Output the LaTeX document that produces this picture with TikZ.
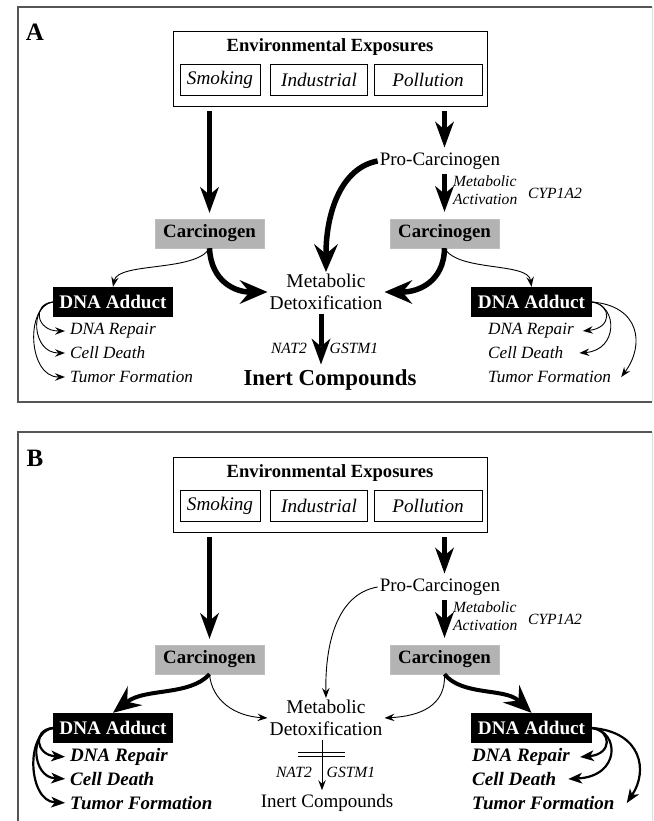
\documentclass[tikz,border=0pt]{standalone}
\usepackage{fontspec}
\setmainfont{Liberation Serif}
\usepackage{xcolor}
\usepackage{tikz}
\usetikzlibrary{arrows.meta,calc}
\definecolor{frame}{HTML}{555555}
\definecolor{faint}{HTML}{DDDDDD}
\definecolor{carc}{HTML}{B3B3B3}
\definecolor{ink}{HTML}{000000}
\tikzset{
  panel/.style={draw=frame, line width=1.2pt},
  envbox/.style={draw=ink, line width=0.8pt, minimum width=314pt, minimum height=75pt, inner sep=0pt},
  srcbox/.style={draw=ink, line width=0.8pt, minimum height=31pt, inner sep=0pt, font=\fontsize{19.2}{21}\selectfont\itshape},
  carcbox/.style={fill=carc, draw=carc!85!white, minimum width=109pt, minimum height=29pt, inner sep=0pt, font=\fontsize{18.8}{20}\selectfont\bfseries},
  addbox/.style={fill=ink, text=white, minimum width=120pt, minimum height=30pt, inner sep=0pt, font=\fontsize{19.2}{20}\selectfont\bfseries},
  panellab/.style={inner sep=0pt, font=\fontsize{25}{26}\selectfont\bfseries},
  title/.style={inner sep=0pt, font=\fontsize{18.6}{20}\selectfont\bfseries},
  lab/.style={inner sep=2pt, font=\fontsize{19}{22}\selectfont},
  smalllab/.style={inner sep=1pt, font=\fontsize{15.6}{18}\selectfont\itshape},
  outA/.style={anchor=west, inner sep=2pt, font=\fontsize{17.2}{20}\selectfont\itshape},
  outB/.style={anchor=west, inner sep=2pt, font=\fontsize{19}{20}\selectfont\bfseries\itshape},
  fat/.style={line width=5pt, -{Stealth[length=26pt,width=19pt,inset=8pt,line width=0pt]}},
  bent/.style={line width=5.5pt, -{Stealth[length=28pt,width=24pt,inset=10pt,line width=0pt]}},
  mid/.style={line width=2.2pt, -{Stealth[length=14pt,width=11pt,inset=4pt,line width=0pt]}},
  slim/.style={line width=0.9pt, -{Stealth[length=10pt,width=7.5pt,inset=3.5pt,line width=0pt]}}
}
\begin{document}
\begin{tikzpicture}[x=1pt, y=-1pt]
  \useasboundingbox (0,0) rectangle (653,821);

  % ---------------- panel A ----------------
  \draw[panel] (652,7) -- (18,7) -- (18,402) -- (652,402);
  \draw[faint, line width=0.8pt] (652,7) -- (652,402);
  \node[panellab] (aLab) at (35,32) {A};

  \node[envbox] (aEnv) at (330,68.5) {};
  \node[title] (aEnvT) at (330,47) {Environmental Exposures};
  \node[srcbox, minimum width=80pt] (aSmk) at (220,79.5) {Smoking};
  \node[srcbox, minimum width=97pt] (aInd) at (319,79.5) {Industrial};
  \node[srcbox, minimum width=108pt] (aPol) at (428,79.5) {Pollution};

  \node[lab] (aPro) at (440,161) {Pro-Carcinogen};
  \node[smalllab, anchor=west, align=left] (aAct) at (452,190) {Metabolic\\Activation};
  \node[smalllab] (aCyp) at (555,193) {CYP1A2};

  \node[carcbox] (aCarcL) at (209.5,233.5) {Carcinogen};
  \node[carcbox] (aCarcR) at (444.5,233.5) {Carcinogen};
  \node[lab, align=center, font=\fontsize{19.5}{22}\selectfont] (aMeta) at (326,292) {Metabolic\\Detoxification};
  \node[addbox] (aAddL) at (113,302) {DNA Adduct};
  \node[addbox, minimum width=121pt] (aAddR) at (531.5,302) {DNA Adduct};

  \node[outA] (aRepL) at (68,331) {DNA Repair};
  \node[outA] (aDthL) at (68,353) {Cell Death};
  \node[outA] (aTumL) at (68,377) {Tumor Formation};
  \node[outA] (aRepR) at (486,331) {DNA Repair};
  \node[outA] (aDthR) at (486,353) {Cell Death};
  \node[outA] (aTumR) at (486,377) {Tumor Formation};

  \node[smalllab] (aNat) at (289,348) {NAT2};
  \node[smalllab] (aGst) at (354,348) {GSTM1};
  \node[inner sep=2pt, font=\fontsize{22.8}{24}\selectfont\bfseries] (aInert) at (330,380) {Inert Compounds};

  % straight arrows
  \draw[fat, shorten <=5pt, shorten >=6pt] (aEnv.south -| aCarcL.north) -- (aCarcL.north);
  \draw[fat, shorten <=5pt, shorten >=3pt] (aEnv.south -| aCarcR.north) -- (aCarcR.north |- aPro.north);
  \draw[fat, shorten <=2pt, shorten >=7pt] (aCarcR.north |- aPro.south) -- (aCarcR.north);
  \draw[fat, shorten <=2pt, shorten >=3pt] ([xshift=-5pt]aMeta.south) -- ([xshift=-5pt]aMeta.south |- aInert.north);

  % detoxification routes
  \draw[bent] (aPro.west) .. controls (340,168) and (326,215) .. (aMeta.north);
  \draw[bent] (aCarcL.south) .. controls (211,282) and (236,292) .. (aMeta.west);
  \draw[bent] (aCarcR.south) .. controls (444,282) and (418,292) .. (aMeta.east);

  % adduct formation
  \draw[slim] (aCarcL.south) .. controls (196,272) and (118,262) .. (aAddL.north);
  \draw[slim] (aCarcR.south) .. controls (458,272) and (528,262) .. (aAddR.north);

  % adduct outcomes
  \draw[slim, shorten >=3pt] (aAddL.west) .. controls (32,304) and (36,331) .. (aRepL.west);
  \draw[slim, shorten >=3pt] (aAddL.west) .. controls (29,305) and (32,353) .. (aDthL.west);
  \draw[slim, shorten >=3pt] (aAddL.west) .. controls (25,306) and (28,377) .. (aTumL.west);
  \draw[slim] (aAddR.east) .. controls (612,305) and (612,328) .. ([xshift=7pt]aRepR.east);
  \draw[slim] (aAddR.east) .. controls (618,306) and (618,350) .. ([xshift=14pt]aDthR.east);
  \draw[slim] (aAddR.east) .. controls (640,306) and (645,345) .. ([xshift=8pt]aTumR.east);

  % ---------------- panel B ----------------
  \draw[panel] (652,432) -- (18,432) -- (18,830);
  \draw[faint, line width=0.8pt] (652,432) -- (652,830);

  \begin{scope}[yshift=-426pt]
  \node[panellab] (bLab) at (35,32) {B};

  \node[envbox] (bEnv) at (330,68.5) {};
  \node[title] (bEnvT) at (330,47) {Environmental Exposures};
  \node[srcbox, minimum width=80pt] (bSmk) at (220,79.5) {Smoking};
  \node[srcbox, minimum width=97pt] (bInd) at (319,79.5) {Industrial};
  \node[srcbox, minimum width=108pt] (bPol) at (428,79.5) {Pollution};

  \node[lab] (bPro) at (440,161) {Pro-Carcinogen};
  \node[smalllab, anchor=west, align=left] (bAct) at (452,190) {Metabolic\\Activation};
  \node[smalllab] (bCyp) at (555,193) {CYP1A2};

  \node[carcbox] (bCarcL) at (209.5,233.5) {Carcinogen};
  \node[carcbox] (bCarcR) at (444.5,233.5) {Carcinogen};
  \node[lab, align=center, font=\fontsize{19.5}{22}\selectfont] (bMeta) at (326,292) {Metabolic\\Detoxification};
  \node[addbox] (bAddL) at (113,302) {DNA Adduct};
  \node[addbox, minimum width=121pt] (bAddR) at (531.5,302) {DNA Adduct};

  \node[outB] (bRepL) at (68,331) {DNA Repair};
  \node[outB] (bDthL) at (68,353) {Cell Death};
  \node[outB] (bTumL) at (68,377) {Tumor Formation};
  \node[outB] (bRepR) at (470,331) {DNA Repair};
  \node[outB] (bDthR) at (470,353) {Cell Death};
  \node[outB] (bTumR) at (470,377) {Tumor Formation};

  \node[smalllab] (bNat) at (294,346) {NAT2};
  \node[smalllab] (bGst) at (351,346) {GSTM1};
  \node[inner sep=2pt, font=\fontsize{19}{21}\selectfont] (bInert) at (327,377) {Inert Compounds};

  % straight arrows
  \draw[fat, shorten <=5pt, shorten >=6pt] (bEnv.south -| bCarcL.north) -- (bCarcL.north);
  \draw[fat, shorten <=5pt, shorten >=3pt] (bEnv.south -| bCarcR.north) -- (bCarcR.north |- bPro.north);
  \draw[fat, shorten <=2pt, shorten >=7pt] (bCarcR.north |- bPro.south) -- (bCarcR.north);

  % blocked detoxification
  \draw[slim, shorten <=2pt, shorten >=2pt] ([xshift=-4pt]bMeta.south) -- ([xshift=-4pt]bMeta.south |- bInert.north);
  \coordinate (bBar) at ($([xshift=-4pt]bMeta.south)!0.3!([xshift=-4pt]bMeta.south |- bInert.north)$);
  \draw[line width=0.8pt] ($(bBar)+(-24,-2)$) -- ($(bBar)+(23,-2)$);
  \draw[line width=0.8pt] ($(bBar)+(-24,2)$) -- ($(bBar)+(23,2)$);

  % detoxification routes
  \draw[slim] (bPro.west) .. controls (336,168) and (325,220) .. (bMeta.north);
  \draw[slim] (bCarcL.south) .. controls (212,275) and (235,290) .. (bMeta.west);
  \draw[slim] (bCarcR.south) .. controls (446,280) and (420,290) .. (bMeta.east);

  % adduct formation
  \draw[bent, line width=4pt] (bCarcL.south) .. controls (190,270) and (145,262) .. (bAddL.north);
  \draw[bent, line width=4pt] (bCarcR.south) .. controls (462,270) and (505,262) .. (bAddR.north);

  % adduct outcomes
  \draw[mid, shorten >=3pt] (bAddL.west) .. controls (32,304) and (36,329) .. (bRepL.west);
  \draw[mid, shorten >=3pt] (bAddL.west) .. controls (29,305) and (32,351) .. (bDthL.west);
  \draw[mid, shorten >=3pt] (bAddL.west) .. controls (25,306) and (28,375) .. (bTumL.west);
  \draw[mid] (bAddR.east) .. controls (612,305) and (612,328) .. ([xshift=8pt]bRepR.east);
  \draw[mid] (bAddR.east) .. controls (620,306) and (620,350) .. ([xshift=10pt]bDthR.east);
  \draw[mid] (bAddR.east) .. controls (642,306) and (648,345) .. ([xshift=10pt]bTumR.east);
  \end{scope}
\end{tikzpicture}
\end{document}
